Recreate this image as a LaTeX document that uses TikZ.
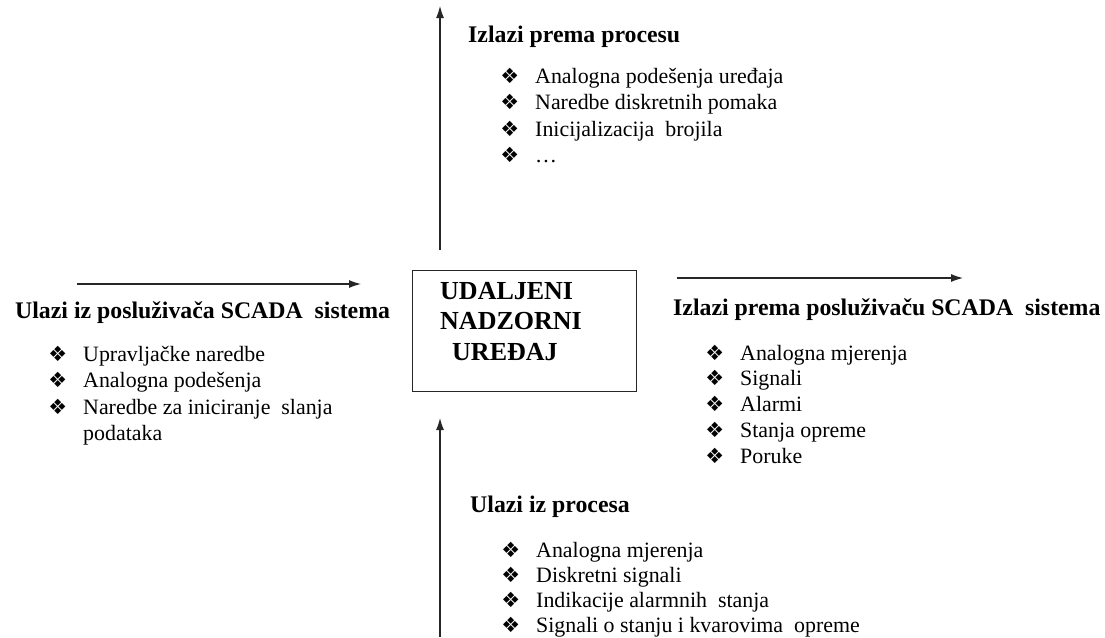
\documentclass[tikz,border=0pt]{standalone}
\usepackage{fontspec}
\setmainfont{Liberation Serif}
\newfontfamily\dingfont{DejaVu Sans}
\usetikzlibrary{arrows.meta}

% bullet in front of every list line
\newcommand{\bul}{\llap{{\dingfont\bfseries\fontsize{21}{21}\selectfont ❖}\hspace{16pt}}}

\tikzset{
  heading/.style={anchor=base west, inner sep=0pt, font=\bfseries\fontsize{23.8}{23.8}\selectfont},
  boxtext/.style={anchor=base west, inner sep=0pt, font=\bfseries\fontsize{26}{26}\selectfont},
  item/.style={anchor=base west, inner sep=0pt, font=\fontsize{21.9}{21.9}\selectfont},
  flow/.style={-{Latex[length=12pt,width=8pt]}, line width=1.1pt, draw=black!85},
  unitbox/.style={draw=black!85, line width=1pt, minimum width=224pt, minimum height=121pt, inner sep=0pt}
}

\begin{document}
\begin{tikzpicture}[x=1pt,y=-1pt]
\useasboundingbox (0,0) rectangle (1105,637);

% Central unit
      \node[unitbox] (rtu) at (524,330.5) {};
      \node[boxtext] (ud1) at (440,299) {UDALJENI};
      \node[boxtext] (ud2) at (440,329) {NADZORNI};
      \node[boxtext] (ud3) at (452,360) {UREĐAJ};

% Arrows
      \coordinate (upS) at (440,250);  \coordinate (upE) at (440,6);
      \coordinate (inS) at (77,284);   \coordinate (inE) at (361,284);
      \coordinate (outS) at (677,278); \coordinate (outE) at (963,278);
      \coordinate (dnS) at (440,637);  \coordinate (dnE) at (440,418);
      \draw[flow] (upS) -- (upE);
      \draw[flow] (inS) -- (inE);
      \draw[flow] (outS) -- (outE);
      \draw[flow] (dnS) -- (dnE);

% Izlazi prema procesu
      \node[heading] (hdUp) at (468,42) {Izlazi prema procesu};
      \foreach \t [count=\i] in {Analogna podešenja uređaja, Naredbe diskretnih pomaka,
                                 Inicijalizacija\ \ brojila, {\ldots}}
        \node[item] (up\i) at (535,{83+26.5*(\i-1)}) {\bul\t};

% Ulazi iz posluzivaca
      \node[heading] (hdIn) at (15,318) {Ulazi iz posluživača SCADA\ \ sistema};
      \foreach \t [count=\i] in {Upravljačke naredbe, Analogna podešenja,
                                 Naredbe za iniciranje\ \ slanja}
        \node[item] (in\i) at (83,{361+26.5*(\i-1)}) {\bul\t};
      \node[item] (in4) at (83,440.5) {podataka};

% Izlazi prema posluzivacu
      \node[heading] (hdOut) at (673,315) {Izlazi prema posluživaču SCADA\ \ sistema};
      \foreach \t [count=\i] in {Analogna mjerenja, Signali, Alarmi, Stanja opreme, Poruke}
        \node[item] (out\i) at (740,{360+25.8*(\i-1)}) {\bul\t};

% Ulazi iz procesa
      \node[heading] (hdDn) at (470,512) {Ulazi iz procesa};
      \foreach \t [count=\i] in {Analogna mjerenja, Diskretni signali,
                                 Indikacije alarmnih\ \ stanja,
                                 Signali o stanju i kvarovima\ \ opreme}
        \node[item] (dn\i) at (536,{557+25*(\i-1)}) {\bul\t};

\end{tikzpicture}
\end{document}
